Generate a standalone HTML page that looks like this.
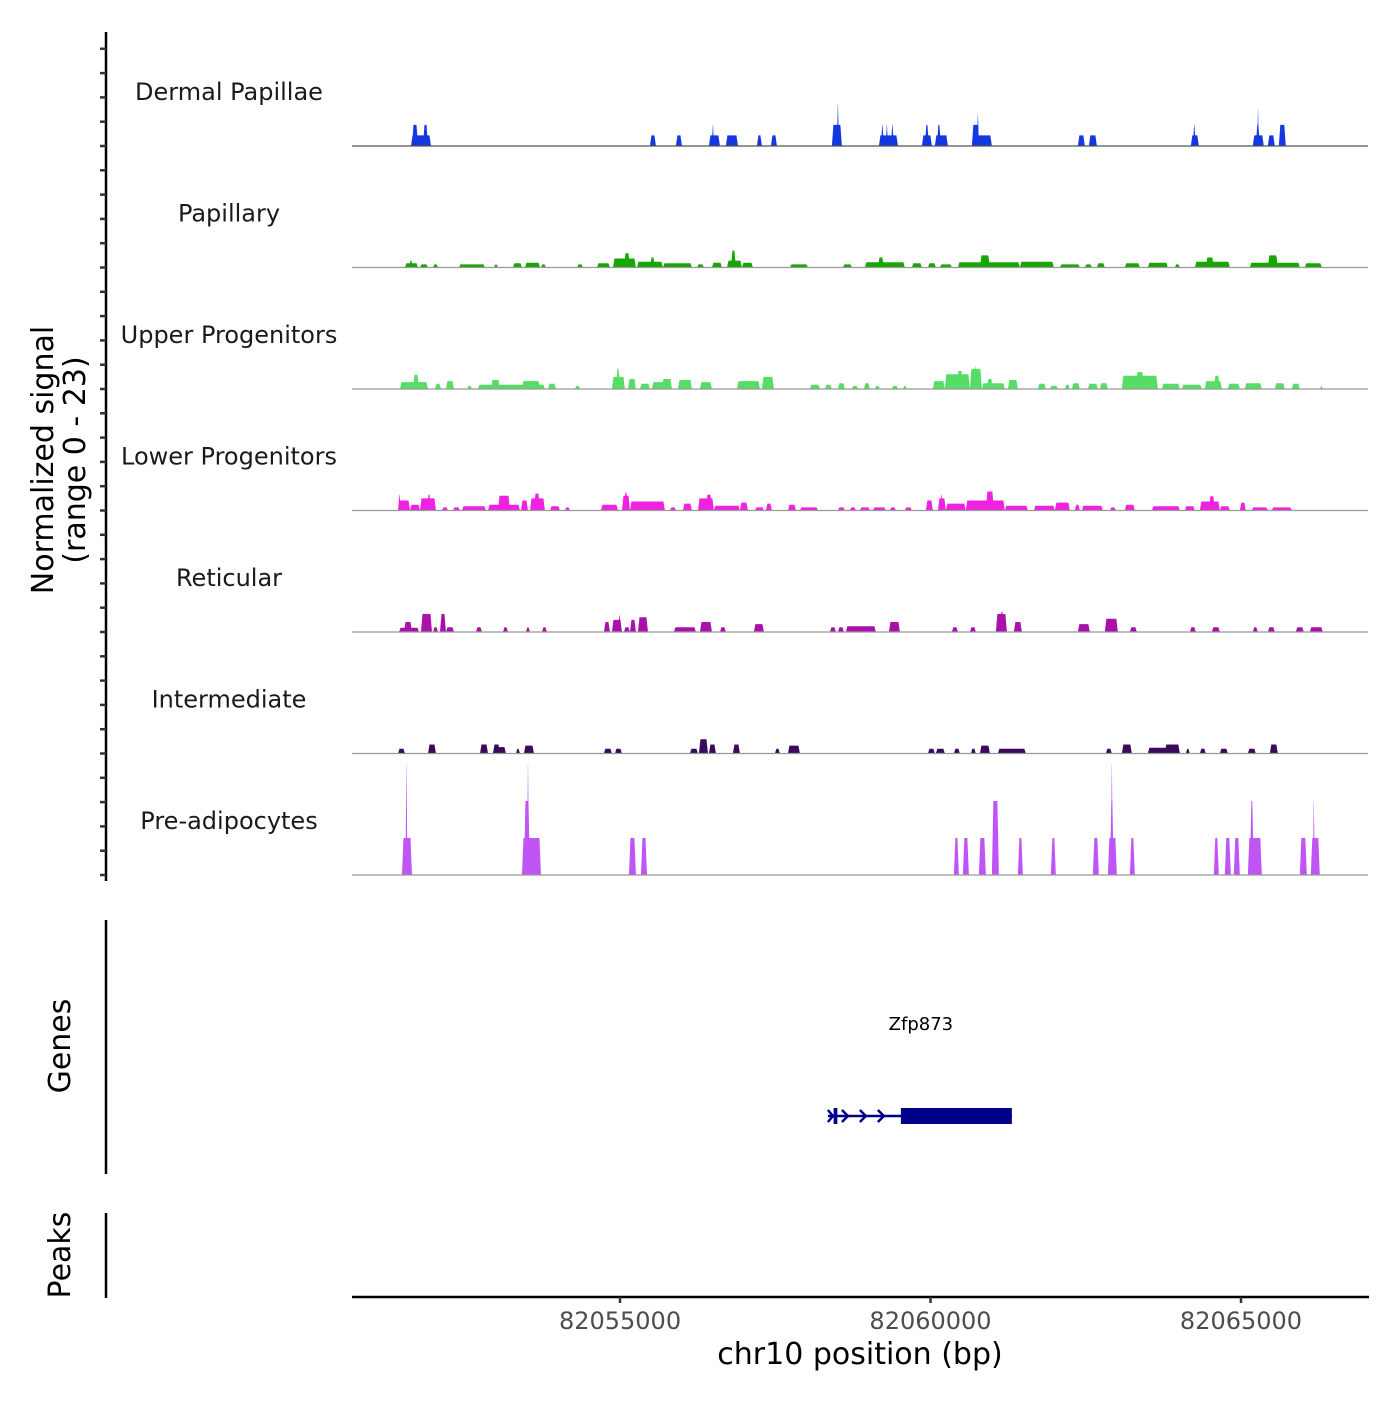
<!DOCTYPE html>
<html><head><meta charset="utf-8"><style>
html,body{margin:0;padding:0;background:#fff;}
svg text{font-family:"DejaVu Sans","Liberation Sans",sans-serif;}
</style></head><body>
<svg id="chart" width="1400" height="1400" viewBox="0 0 1400 1400" xmlns="http://www.w3.org/2000/svg">
<rect width="1400" height="1400" fill="#fff"/>
<g id="tracks"></g>
<g id="axes"></g>
<text transform="translate(53,460) rotate(-90)" text-anchor="middle" font-size="30" fill="#000">Normalized signal</text>
<text transform="translate(85,460) rotate(-90)" text-anchor="middle" font-size="30" fill="#000">(range 0 - 23)</text>
<text transform="translate(70,1046) rotate(-90)" text-anchor="middle" font-size="30" fill="#000">Genes</text>
<text transform="translate(70,1255) rotate(-90)" text-anchor="middle" font-size="30" fill="#000">Peaks</text>
<text x="860" y="1364" text-anchor="middle" font-size="30" fill="#000">chr10 position (bp)</text>
<g id="gene"></g>
</svg>
<script>
const xDomain = [82050684, 82067045];
const yMax = 23;
const xTicks = [82055000, 82060000, 82065000];
const xTickLabels = ["82055000", "82060000", "82065000"];
const trackNames = ["Dermal Papillae","Papillary","Upper Progenitors","Lower Progenitors","Reticular","Intermediate","Pre-adipocytes"];
const trackColors = ["#1437E0","#16A800","#55DD66","#EE22E0","#AA11AA","#3B0A5A","#C055F5"];
const dermalPapillae = [[82051634,82051956,2],[82051650,82051747,4],[82051827,82051908,4],[82055482,82055578,2],[82055900,82055997,2],[82056432,82056609,2],[82056480,82056512,4],[82056705,82056899,2],[82057205,82057285,2],[82057430,82057527,2],[82058412,82058573,4],[82058493,82058525,8],[82059169,82059475,2],[82059201,82059249,4],[82059281,82059314,4],[82059362,82059410,4],[82059861,82060022,2],[82059909,82059974,4],[82060070,82060280,2],[82060103,82060167,4],[82060666,82060988,2],[82060666,82060779,4],[82060747,82060779,6],[82062373,82062485,2],[82062550,82062679,2],[82064192,82064321,2],[82064224,82064272,4],[82065190,82065367,2],[82065238,82065303,4],[82065262,82065286,7],[82065432,82065544,2],[82065609,82065721,4]];
const papillary = [[82051537,82051747,0.8],[82051602,82051666,1.3],[82051779,82051908,0.6],[82051988,82052069,0.6],[82052407,82052825,0.6],[82052970,82053035,0.6],[82053276,82053421,0.8],[82053469,82053711,0.9],[82053727,82053807,0.6],[82054307,82054403,0.6],[82054629,82054838,0.8],[82054886,82055256,1.7],[82055063,82055160,2.7],[82055273,82055691,1.1],[82055482,82055562,1.9],[82055691,82056158,0.8],[82056239,82056351,0.6],[82056480,82056641,0.9],[82056722,82056963,1.3],[82056786,82056866,3.2],[82056963,82057140,0.9],[82057736,82058026,0.6],[82058589,82058734,0.6],[82058943,82059587,1.0],[82059153,82059249,1.9],[82059700,82059861,0.8],[82059958,82060086,0.8],[82060151,82060344,0.6],[82060441,82061439,1.0],[82060795,82060956,2.3],[82061439,82061986,1.1],[82062083,82062405,0.6],[82062485,82062598,0.6],[82062679,82062807,0.8],[82063129,82063371,0.8],[82063500,82063822,0.9],[82063934,82064015,0.6],[82064256,82064820,1.1],[82064433,82064562,1.9],[82065142,82065947,0.9],[82065432,82065593,2.3],[82066027,82066301,0.8]];
const upperProgenitors = [[82051457,82051908,1.3],[82051666,82051763,2.7],[82052020,82052117,1.0],[82052197,82052326,1.5],[82052536,82052616,0.6],[82052713,82053791,0.8],[82052922,82053067,1.7],[82053421,82053711,1.5],[82053840,82053968,1.0],[82054274,82054355,0.6],[82054870,82055079,2.3],[82054934,82054999,3.8],[82055128,82055256,1.9],[82055321,82055482,1.0],[82055514,82055836,1.3],[82055675,82055836,1.9],[82055933,82056158,1.7],[82056287,82056480,1.3],[82056883,82057253,1.5],[82057285,82057478,2.3],[82058058,82058219,0.8],[82058299,82058412,0.8],[82058509,82058621,1.1],[82058734,82058831,0.6],[82058927,82059024,1.1],[82059104,82059185,0.6],[82059378,82059475,0.6],[82059555,82059620,0.6],[82060038,82060231,1.5],[82060231,82060634,2.8],[82060425,82060521,3.4],[82060634,82060827,3.8],[82060698,82060747,4.4],[82060827,82061197,1.1],[82060908,82061004,1.9],[82061246,82061407,1.7],[82061729,82061857,1.0],[82061922,82062051,0.6],[82062163,82062244,0.8],[82062276,82062405,1.1],[82062534,82062695,1.0],[82062727,82062856,1.1],[82063081,82063661,2.5],[82063306,82063435,3.2],[82063725,82064015,1.0],[82064047,82064369,0.8],[82064417,82064691,1.5],[82064562,82064659,2.5],[82064788,82064981,1.0],[82065061,82065335,1.1],[82065544,82065705,1.1],[82065818,82065947,1.0],[82066269,82066317,0.6]];
const lowerProgenitors = [[82051425,82051618,1.9],[82051425,82051473,3.0],[82051618,82051779,1.1],[82051779,82052036,2.3],[82051892,82051956,3.0],[82052133,82052230,0.6],[82052310,82052423,0.6],[82052455,82052841,0.8],[82052874,82053389,1.1],[82053035,82053228,2.8],[82053405,82053518,1.9],[82053550,82053791,2.3],[82053614,82053711,3.2],[82053872,82054033,0.8],[82054113,82054194,0.6],[82054693,82054967,1.1],[82055031,82055160,2.8],[82055063,82055128,3.4],[82055160,82055723,1.7],[82055804,82055900,0.6],[82056013,82056158,1.3],[82056255,82056512,2.3],[82056383,82056480,3.0],[82056512,82056931,0.9],[82056931,82057060,1.5],[82057172,82057317,0.6],[82057349,82057446,1.3],[82057704,82057832,1.1],[82057897,82058187,0.6],[82058509,82058621,0.6],[82058702,82058798,0.6],[82058863,82059024,0.6],[82059072,82059281,0.6],[82059346,82059442,0.6],[82059587,82059700,0.6],[82059925,82060038,1.9],[82060119,82060247,2.3],[82060151,82060199,3.0],[82060247,82060569,1.3],[82060569,82061197,1.9],[82060891,82061020,3.6],[82061197,82061568,0.9],[82061664,82062002,0.9],[82062002,82062244,1.5],[82062324,82062405,1.1],[82062437,82062775,0.9],[82062888,82062984,0.6],[82063129,82063290,1.1],[82063564,82064015,0.8],[82064095,82064256,0.8],[82064337,82064659,1.7],[82064482,82064578,2.7],[82064659,82064820,0.8],[82064981,82065077,1.5],[82065174,82065432,0.6],[82065496,82065818,0.6]];
const reticular = [[82051441,82051763,0.8],[82051521,82051650,1.9],[82051795,82051972,3.4],[82051988,82052069,0.9],[82052101,82052197,3.4],[82052197,82052326,0.9],[82052680,82052777,0.9],[82053115,82053196,0.9],[82053485,82053550,0.9],[82053743,82053824,0.9],[82054741,82054838,1.9],[82054870,82055031,2.3],[82054967,82055015,3.2],[82055063,82055160,0.9],[82055160,82055256,2.3],[82055289,82055450,2.8],[82055868,82056222,0.9],[82056287,82056480,1.9],[82056609,82056705,0.9],[82057156,82057317,1.5],[82058380,82058476,0.9],[82058509,82058605,0.9],[82058637,82059120,1.1],[82059330,82059507,1.9],[82060344,82060441,0.9],[82060634,82060730,0.9],[82061052,82061230,3.4],[82061117,82061181,3.8],[82061342,82061471,1.9],[82062373,82062566,1.5],[82062807,82063017,2.5],[82063210,82063323,0.9],[82064176,82064272,0.9],[82064530,82064659,0.9],[82065190,82065270,0.9],[82065432,82065544,0.9],[82065882,82066011,0.9],[82066108,82066317,0.9]];
const intermediate = [[82051425,82051537,0.9],[82051908,82052036,1.7],[82052745,82052874,1.7],[82052954,82053163,1.2],[82052954,82053067,1.7],[82053324,82053389,0.9],[82053453,82053614,1.5],[82054741,82054870,0.9],[82054918,82055031,0.9],[82056126,82056255,0.9],[82056271,82056416,2.7],[82056432,82056544,1.7],[82056818,82056931,1.7],[82057494,82057575,0.9],[82057704,82057897,1.5],[82059958,82060070,0.9],[82060086,82060231,0.9],[82060376,82060473,0.9],[82060650,82060730,0.9],[82060795,82060956,1.5],[82061085,82061535,0.9],[82062823,82062920,0.9],[82063081,82063242,1.7],[82063500,82064015,1.1],[82063773,82064015,1.7],[82064111,82064176,0.9],[82064337,82064433,0.9],[82064659,82064788,0.9],[82065110,82065238,0.9],[82065464,82065593,1.7]];
const preAdipocytes = [[82051489,82051650,7],[82051545,82051577,21],[82053421,82053727,7],[82053453,82053550,14],[82053502,82053534,21],[82055144,82055256,7],[82055337,82055434,7],[82060376,82060457,7],[82060521,82060618,7],[82060779,82060891,7],[82060988,82061101,14],[82061407,82061487,7],[82061938,82062018,7],[82062614,82062711,7],[82062856,82063001,7],[82062888,82062952,14],[82062904,82062936,21],[82063210,82063290,7],[82064562,82064643,7],[82064739,82064836,7],[82064884,82064981,7],[82065110,82065335,7],[82065142,82065206,14],[82065947,82066060,7],[82066124,82066269,7],[82066156,82066188,14]];
const trackData = [dermalPapillae,papillary,upperProgenitors,lowerProgenitors,reticular,intermediate,preAdipocytes];
const geneName = "Zfp873";
const geneStart = 82058348, geneEnd = 82061310;
const geneExons = [[82058440,82058500],[82059523,82061310]];
const geneArrows = [82058670, 82058959, 82059249];

const NS = "http://www.w3.org/2000/svg";
const X0 = 352, X1 = 1368;
const trackTop = 24.5, trackH = 121.5;
function xScale(bp){ return X0 + (bp - xDomain[0]) / (xDomain[1] - xDomain[0]) * (X1 - X0); }
function yScale(v, i){ return trackTop + (i + 1) * trackH - v / yMax * trackH; }
function mk(tag, attrs, parent){ const e = document.createElementNS(NS, tag); for (const k in attrs) e.setAttribute(k, attrs[k]); parent.appendChild(e); return e; }

const tracks = document.getElementById('tracks');
trackData.forEach((segs, i) => {
  const g = mk('g', {}, tracks);
  
  
  const base = yScale(0, i);
  segs.forEach(s => {
    const xa = xScale(s[0]), xb = xScale(s[1]), yt = yScale(s[2], i);
    const t = Math.min(1.5, (xb - xa) / 2.2);
    const p = mk('polygon', {points: `${xa},${base} ${xa + t},${yt} ${xb - t},${yt} ${xb},${base}`, fill: trackColors[i]}, g);
    
    
  });
  const bl = mk('line', {x1: X0, x2: X1, y1: base, y2: base, stroke: i === 0 ? '#555' : '#999', 'stroke-width': 1.2}, g);
  
  
  const lab = mk('text', {x: 229, y: base - 46, 'text-anchor': 'middle', 'font-size': 24, fill: '#1a1a1a'}, g);
  lab.textContent = trackNames[i];
  
  
});

const axes = document.getElementById('axes');
function line(x1,y1,x2,y2,w,name,col){ const l = mk('line',{x1,y1,x2,y2,stroke:col||'#000','stroke-width':w},axes);   return l; }
line(106,32,106,881,2.5,'y-axis-line');
for (let y = trackTop + 7 * trackH; y > 40; y -= trackH / 5) line(100, y, 106, y, 2.5, 'y-axis-tick', '#333');
line(106,920,106,1174,2.5,'genes-axis-line');
line(106,1213,106,1298,2.5,'peaks-axis-line');
line(352,1297,1369,1297,2.5,'x-axis-line');
xTicks.forEach((t, k) => {
  const x = xScale(t);
  line(x, 1297, x, 1303, 2.5, 'x-axis-tick', '#333');
  const tx = mk('text', {x: x, y: 1329, 'text-anchor': 'middle', 'font-size': 24, fill: '#4d4d4d'}, axes);
  tx.textContent = xTickLabels[k];
  
  
});

const gg = document.getElementById('gene');
const gy = 1116, col = '#00008B';
const gl = mk('line', {x1: xScale(geneStart), x2: xScale(geneEnd), y1: gy, y2: gy, stroke: col, 'stroke-width': 2.5}, gg);


geneExons.forEach(e => {
  const r = mk('rect', {x: xScale(e[0]), y: gy - 8, width: Math.max(3, xScale(e[1]) - xScale(e[0])), height: 16, fill: col}, gg);
  
  
});
const gs = xScale(geneStart);
const endMark = mk('path', {d: `M${gs},${gy-6} L${gs+5},${gy} L${gs},${gy+6}`, stroke: col, 'stroke-width': 2.5, fill: 'none'}, gg);


geneArrows.forEach(a => {
  const ax = xScale(a);
  const ar = mk('path', {d: `M${ax-6},${gy-6} L${ax},${gy} L${ax-6},${gy+6}`, stroke: col, 'stroke-width': 2.5, fill: 'none'}, gg);
  
  
});
const gt = mk('text', {x: (xScale(geneStart) + xScale(geneEnd)) / 2 + 1, y: 1030, 'text-anchor': 'middle', 'font-size': 18, fill: '#000'}, gg);
gt.textContent = geneName;


</script>
</body></html>
